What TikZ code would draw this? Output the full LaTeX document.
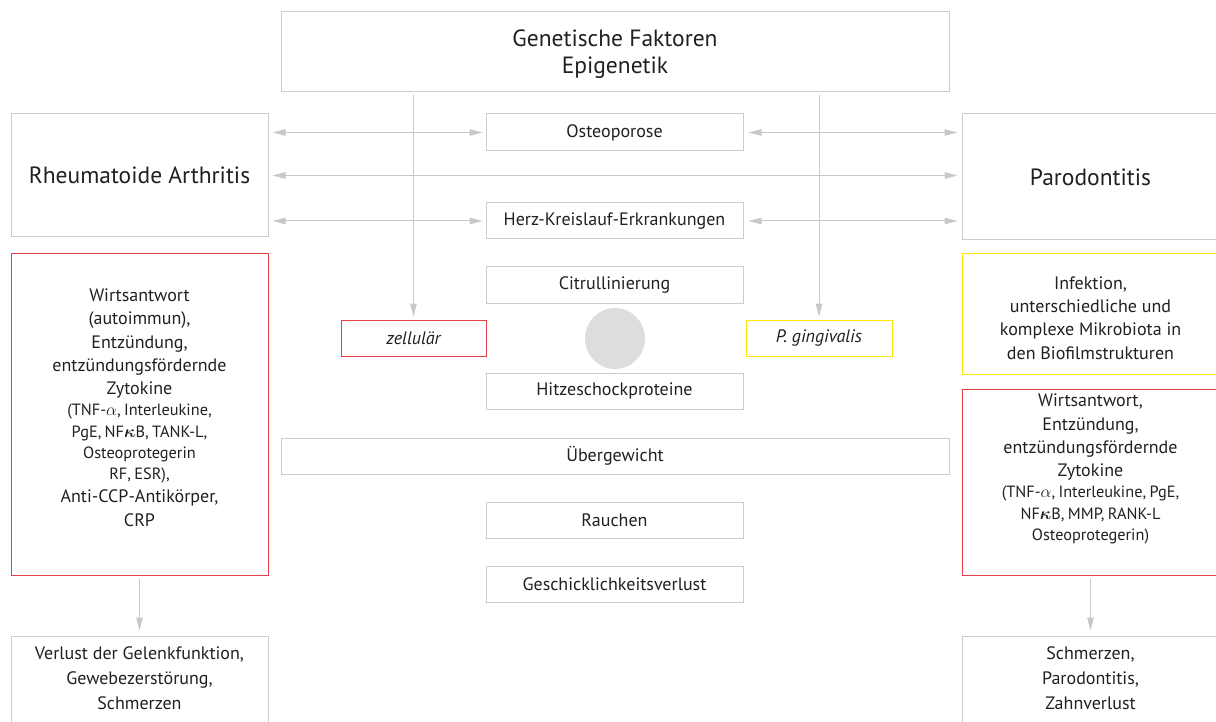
\documentclass[tikz,border=0pt]{standalone}
\usepackage{fontspec}
\setmainfont{PT Sans}
\usepackage{bm}
\usetikzlibrary{arrows.meta}

\definecolor{linegray}{RGB}{200,200,200}
\definecolor{boxgray}{RGB}{205,205,205}
\definecolor{boxred}{RGB}{232,62,70}
\definecolor{boxyellow}{RGB}{255,230,0}
\definecolor{dotgray}{RGB}{220,221,223}
\definecolor{ink}{RGB}{35,31,32}

\newcommand\fsTitle{\fontsize{23.5}{27}\selectfont}
\newcommand\fsMid{\fontsize{18}{22}\selectfont}
\newcommand\fsBig{\fontsize{18}{23.3}\selectfont}
\newcommand\fsSmall{\fontsize{16.3}{21.2}\selectfont}
\newcommand\fsLow{\fontsize{18}{25}\selectfont}

\tikzset{
  box/.style={draw=boxgray, line width=1pt, rectangle, inner sep=0pt, text=ink, align=center},
  redbox/.style={box, draw=boxred},
  yellowbox/.style={box, draw=boxyellow},
  tip/.tip={Triangle[length=13pt,width=6.5pt]},
  conn/.style={draw=linegray, line width=1pt, -tip},
  biconn/.style={draw=linegray, line width=1pt, tip-tip},
  txt/.style={text=ink, align=center, inner sep=0pt},
}

\begin{document}
\begin{tikzpicture}[x=1pt,y=-1pt]
\useasboundingbox (0,0) rectangle (1216,722);
\clip (0,0) rectangle (1216,722);

% top
\node[box, font=\fsTitle, minimum width=668, minimum height=80] (gen) at (615,52) {};
\node[txt, font=\fsTitle] at (615,54) {Genetische Faktoren\\ Epigenetik};

% the two diseases
\node[box, font=\fsTitle, minimum width=257, minimum height=123] (ra) at (139.5,175.5)
  {Rheumatoide Arthritis};
\node[box, font=\fsTitle, minimum width=257, minimum height=126] (paro) at (1090.5,177)
  {Parodontitis};

% central column
\node[box, font=\fsMid, minimum width=257, minimum height=37] (osteo) at (614.5,132.5) {Osteoporose};
\node[box, font=\fsMid, minimum width=257, minimum height=36] (herz) at (614.5,221) {Herz-Kreislauf-Erkrankungen};
\node[box, font=\fsMid, minimum width=257, minimum height=36] (citr) at (614.5,285) {Citrullinierung};
\node[redbox, font=\fsMid\itshape, minimum width=145, minimum height=36] (zell) at (413.5,338) {zellulär};
\node[yellowbox, font=\fsMid\itshape, minimum width=146, minimum height=36] (ping) at (819,338) {P. gingivalis};
\fill[dotgray] (615,338.5) ellipse[x radius=30, y radius=30.5];
\node[box, font=\fsMid, minimum width=257, minimum height=36] (hitze) at (614.5,391) {Hitzeschockproteine};
\node[box, font=\fsMid, minimum width=668, minimum height=36] (ueber) at (615,456) {Übergewicht};
\node[box, font=\fsMid, minimum width=257, minimum height=36] (rauch) at (614.5,520) {Rauchen};
\node[box, font=\fsMid, minimum width=257, minimum height=36] (gesch) at (614.5,584) {Geschicklichkeitsverlust};

% left column
\node[redbox, minimum width=257, minimum height=321] (wirtL) at (139.5,414.5) {};
\node[txt, text width=250] at (139.5,407.5) {%
  {\fsBig Wirtsantwort\\ (autoimmun),\\ Entzündung,\\ entzündungsfördernde\\ Zytokine\par}
  {\fsSmall (TNF-$\alpha$, Interleukine,\\ PgE, NF$\bm{\kappa}$B, TANK-L,\\ Osteoprotegerin\\ RF, ESR),\par}
  {\fsBig Anti-CCP-Antikörper,\\ CRP\par}};
\node[box, minimum width=257, minimum height=124] (verlust) at (139.5,698) {};
\node[txt, font=\fsLow] at (139.5,678.5) {Verlust der Gelenkfunktion,\\ Gewebezerstörung,\\ Schmerzen};

% right column
\node[yellowbox, minimum width=257, minimum height=120] (infekt) at (1090.5,314) {};
\node[txt, font=\fsBig] at (1090.5,318) {Infektion,\\ unterschiedliche und\\ komplexe Mikrobiota in\\ den Biofilmstrukturen};
\node[redbox, minimum width=257, minimum height=186] (wirtR) at (1090.5,482) {};
\node[txt, text width=250] at (1090.5,469) {%
  {\fsBig Wirtsantwort,\\ Entzündung,\\ entzündungsfördernde\\ Zytokine\par}
  {\fsSmall (TNF-$\alpha$, Interleukine, PgE,\\ NF$\bm{\kappa}$B, MMP, RANK-L\\ Osteoprotegerin)\par}};
\node[box, minimum width=257, minimum height=124] (schmerz) at (1090.5,698) {};
\node[txt, font=\fsLow] at (1090.5,678.5) {Schmerzen,\\ Parodontitis,\\ Zahnverlust};

% connectors
\draw[biconn, shorten <=4pt, shorten >=3pt] (ra.east |- osteo.west) -- (osteo.west);
\draw[biconn, shorten <=5pt, shorten >=4pt] (osteo.east) -- (osteo.east -| paro.west);
\draw[biconn, shorten <=4pt, shorten >=4pt] (ra.east) -- (ra.east -| paro.west);
\draw[biconn, shorten <=4pt, shorten >=3pt] (ra.east |- herz.west) -- (herz.west);
\draw[biconn, shorten <=5pt, shorten >=4pt] (herz.east) -- (herz.east -| paro.west);
\draw[conn, shorten <=3pt, shorten >=3pt] (gen.south -| zell.north) -- (zell.north);
\draw[conn, shorten <=3pt, shorten >=3pt] (gen.south -| ping.north) -- (ping.north);
\draw[conn, shorten <=3pt, shorten >=5pt] (wirtL.south) -- (verlust.north);
\draw[conn, shorten <=3pt, shorten >=5pt] (wirtR.south) -- (schmerz.north);
\end{tikzpicture}
\end{document}
